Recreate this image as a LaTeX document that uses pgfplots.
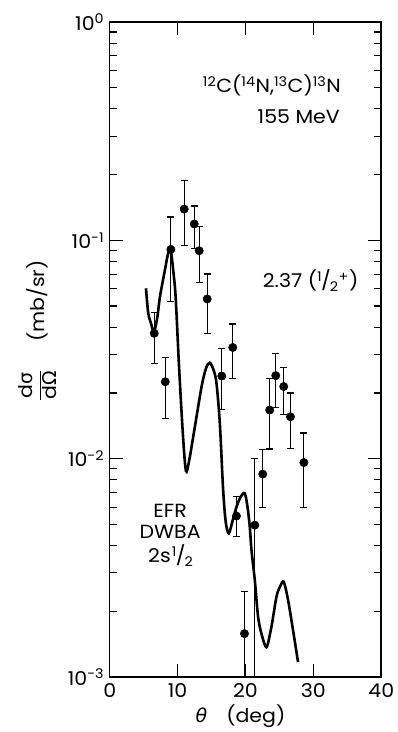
\documentclass[border=0pt]{standalone}
\usepackage{fontspec}
\setmainfont{Poppins}[FakeStretch=1.08]
\newfontfamily\gr{DejaVu Sans}
\usepackage{amsmath}
\usepackage{pgfplots}
\usepackage{pgfplotstable}
\pgfplotsset{compat=1.18}
\usetikzlibrary{calc}
\pgfplotstableread{
x y ep em
6.56 0.0375 0.0093 0.0102
8.18 0.0225 0.0066 0.0072
9.01 0.0909 0.0371 0.0386
10.97 0.139 0.0485 0.0445
12.45 0.1188 0.0248 0.0269
13.18 0.0896 0.0258 0.0254
14.36 0.0539 0.0162 0.0164
16.51 0.0239 0.0081 0.0071
18.13 0.0323 0.0091 0.0090
18.67 0.00546 0.00124 0.00107
19.85 0.00158 0.00089 0.00108
21.37 0.00496 0.00504 0.00446
22.54 0.0085 0.0025 0.00252
23.57 0.0167 0.0066 0.00563
24.46 0.0240 0.0064 0.0069
25.63 0.0214 0.0048 0.0054
26.62 0.01556 0.00444 0.00446
28.60 0.0096 0.0035 0.00362
}\datatable
\pgfplotstableread{
x y
5.34 0.0603
5.68 0.0463
6.07 0.0418
6.51 0.0381
7.0 0.0441
7.4 0.0551
8.13 0.0731
8.6 0.087
8.97 0.0910
9.35 0.0731
9.71 0.0551
10.19 0.0273
10.74 0.01352
11.22 0.00880
11.7 0.0098
12.3 0.0126
13.53 0.02135
14.2 0.026
14.75 0.0275
15.3 0.0255
15.73 0.0221
16.22 0.01451
16.71 0.00718
17.1 0.0051
17.54 0.00455
18.1 0.0052
18.68 0.00602
19.3 0.0067
19.9 0.00693
20.3 0.0060
20.63 0.00488
20.88 0.00381
21.37 0.00278
21.85 0.00189
22.35 0.00158
23.09 0.00137
23.82 0.00170
24.56 0.00233
25.1 0.0026
25.63 0.00273
26.27 0.00225
27.0 0.00164
27.74 0.00117
}\curvetable
\begin{document}
\fontsize{19}{22}\selectfont
\begin{tikzpicture}
\begin{axis}[
  name=ax,
  scale only axis,
  width=271.6pt, height=655pt,
  xmin=0, xmax=40, ymin=1e-3, ymax=1,
  ymode=log,
  axis line style={line width=1.6pt},
  every tick/.style={line width=1.2pt, black},
  tick align=inside,
  major tick length=13pt,
  minor tick length=7pt,
  xtick={0,10,20,30,40},
  xticklabels={0,10,20,30,40},
  minor x tick num=0,
  ytick={1e-3,1e-2,1e-1,1},
  yticklabels={10\textsuperscript{-3},10\textsuperscript{-2},10\textsuperscript{-1},10\textsuperscript{0}},
  tick label style={font=\fontsize{19}{22}\selectfont},
  yticklabel style={xshift=1pt},
  clip=true,
]
\addplot[black, line width=2.6pt, smooth, tension=0.5] table[x=x,y=y] {\curvetable};
\addplot[black, only marks, mark=*, mark size=4.2pt,
  error bars/.cd, y dir=both, y explicit,
  error mark=-, error mark options={mark size=3.5pt, line width=1.2pt, rotate=90},
  error bar style={line width=1.2pt}]
  table[x=x,y=y,y error plus=ep,y error minus=em] {\datatable};
\node[anchor=base east] at (axis cs:35.0,0.473) {\textsuperscript{12}C(\textsuperscript{14}N,\textsuperscript{13}C)\textsuperscript{13}N};
\node[anchor=base east] at (axis cs:34.85,0.3436) {155 MeV};
\node[anchor=base west] at (axis cs:21.6,0.0605) {2.37 (\textsuperscript{1}\kern-1pt/\kern-1pt\textsubscript{2}\textsuperscript{+})};
\node[anchor=base] at (axis cs:8.9,0.00538) {EFR};
\node[anchor=base] at (axis cs:8.9,0.00432) {DWBA};
\node[anchor=base] at (axis cs:9.0,0.00333) {2s\kern1pt\textsuperscript{1}\kern-1pt/\kern-1pt\textsubscript{2}};
\end{axis}
\node[rotate=90, anchor=center] at ($(ax.west)+(-72pt,19pt)$) {$\dfrac{\text{d{\gr σ}}}{\text{d{\gr Ω}}}$\hspace{28pt}(mb/sr)};
\node[anchor=center] at ($(ax.south)+(-5pt,-39pt)$) {{\gr\itshape θ}\quad(deg)};
\pgfresetboundingbox
\path[use as bounding box] ($(ax.south west)+(-109.7pt,-55pt)$) rectangle ($(ax.north east)+(16.7pt,22pt)$);
\end{tikzpicture}
\end{document}
